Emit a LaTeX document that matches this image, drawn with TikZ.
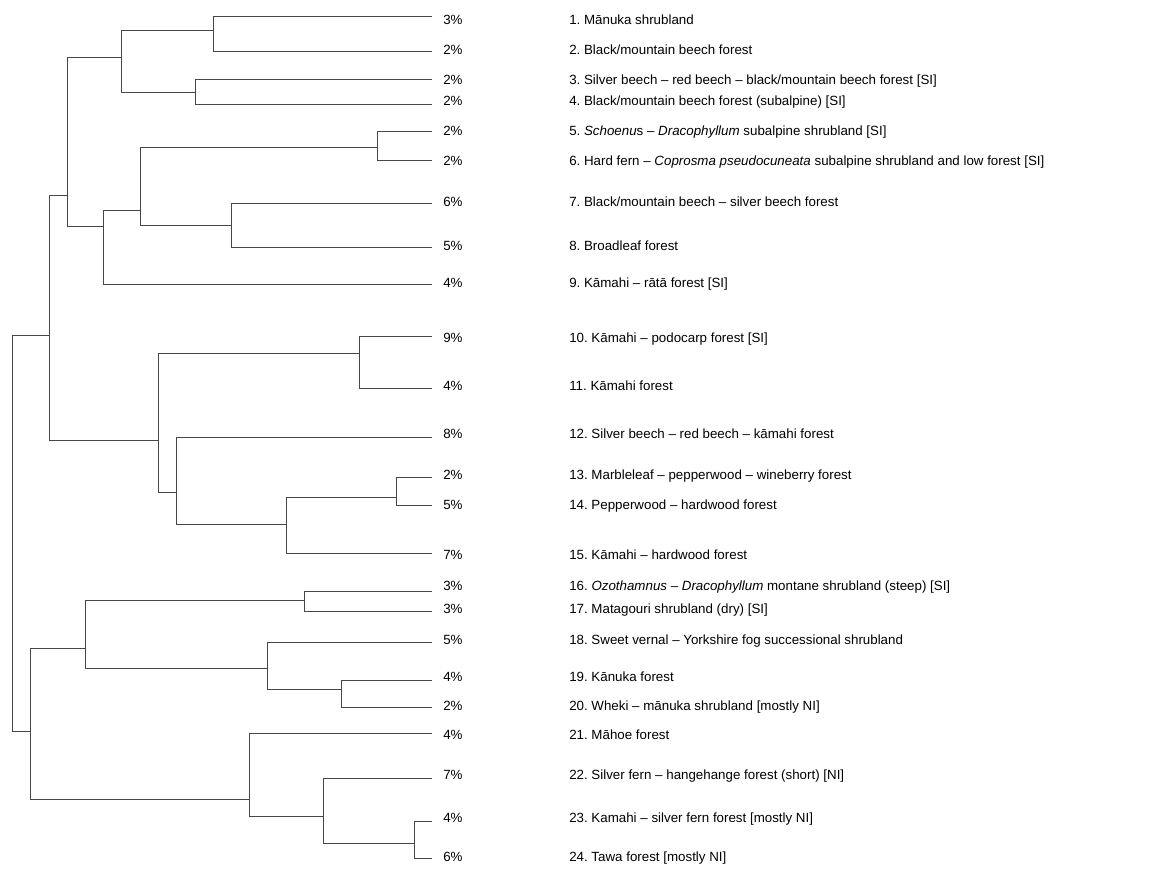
\documentclass[tikz,border=0pt]{standalone}
\usepackage{fontspec}
\setmainfont{Liberation Sans}
\usepackage{tikz}
\usetikzlibrary{positioning}
\frenchspacing

\begin{document}
\begin{tikzpicture}[x=0.75pt, y=-0.75pt, font=\fontsize{10pt}{12pt}\selectfont,
    branch/.style={draw=black!72, line width=0.75pt},
    txt/.style={anchor=west, inner sep=0pt, text height=7.2pt, text depth=0pt}]
    \useasboundingbox (0,0) rectangle (1175,868);
    % leaf ends and percentages
    \foreach \i/\y/\ty/\p in {
      1/16.7/19.5/3, 2/51.7/49.2/2, 3/79.3/80/2, 4/104.3/100.2/2,
      5/131/130.2/2, 6/160/160.8/2, 7/203.3/202/6, 8/247.3/245.8/5,
      9/284.3/282.5/4, 10/336.7/337.5/9, 11/388.3/385.8/4, 12/437/433.8/8,
      13/477/474.2/2, 14/505.7/504.2/5, 15/553.3/555/7, 16/591/585.8/3,
      17/611.3/608.8/3, 18/642.3/639.7/5, 19/680.7/676.8/4, 20/707/705.8/2,
      21/733.7/734.2/4, 22/778.3/774.5/7, 23/821.3/817.5/4, 24/858.7/856.8/6}
    {
      \coordinate (l\i) at (432.3,\y);
      \node[txt] (p\i) at (443,\ty) {\p\%};
    }
    % junctions
    \coordinate (n12) at (213.3,30.7);
    \coordinate (n34) at (195,92.3);
    \coordinate (n1to4) at (121.7,57.3);
    \coordinate (n56) at (377.7,147.7);
    \coordinate (n78) at (231.3,225.7);
    \coordinate (n5to8) at (140,210.7);
    \coordinate (n5to9) at (103.3,226.3);
    \coordinate (n1to9) at (67.7,195.7);
    \coordinate (n10to11) at (359.7,353.3);
    \coordinate (n13to14) at (396,497.3);
    \coordinate (n13to15) at (286.7,524.3);
    \coordinate (n12to15) at (176.7,492.7);
    \coordinate (n10to15) at (158.3,440.3);
    \coordinate (n1to15) at (49,335);
    \coordinate (n16to17) at (304.3,600.7);
    \coordinate (n19to20) at (341.3,689.7);
    \coordinate (n18to20) at (267.7,668.3);
    \coordinate (n16to20) at (85,648.3);
    \coordinate (n23to24) at (414.3,843.7);
    \coordinate (n22to24) at (323,816.7);
    \coordinate (n21to24) at (249.3,799);
    \coordinate (n16to24) at (30.3,731.3);
    \coordinate (root) at (12.3,533);
    \foreach \i/\j in {
      n12/l1, n12/l2, n34/l3, n34/l4, n1to4/n12, n1to4/n34,
      n56/l5, n56/l6, n78/l7, n78/l8, n5to8/n56, n5to8/n78,
      n5to9/n5to8, n5to9/l9, n1to9/n1to4, n1to9/n5to9,
      n10to11/l10, n10to11/l11, n13to14/l13, n13to14/l14,
      n13to15/n13to14, n13to15/l15, n12to15/l12, n12to15/n13to15,
      n10to15/n10to11, n10to15/n12to15, n1to15/n1to9, n1to15/n10to15,
      n16to17/l16, n16to17/l17, n19to20/l19, n19to20/l20,
      n18to20/l18, n18to20/n19to20, n16to20/n16to17, n16to20/n18to20,
      n23to24/l23, n23to24/l24, n22to24/l22, n22to24/n23to24,
      n21to24/l21, n21to24/n22to24, n16to24/n16to20, n16to24/n21to24,
      root/n1to15, root/n16to24}
      \draw[branch] (\i) |- (\j);
    % community names
    \node[txt] (t1) at (569,19.5) {1. Mānuka shrubland};
    \node[txt] (t2) at (569,49.2) {2. Black/mountain beech forest};
    \node[txt] (t3) at (569,80) {3. Silver beech – red beech – black/mountain beech forest [SI]};
    \node[txt] (t4) at (569,100.2) {4. Black/mountain beech forest (subalpine) [SI]};
    \node[txt] (t5) at (569,130.2) {5. \textit{Schoenu}s – \textit{Dracophyllum} subalpine shrubland [SI]};
    \node[txt] (t6) at (569,160.8) {6. Hard fern – \textit{Coprosma pseudocuneata} subalpine shrubland and low forest [SI]};
    \node[txt] (t7) at (569,202) {7. Black/mountain beech – silver beech forest};
    \node[txt] (t8) at (569,245.8) {8. Broadleaf forest};
    \node[txt] (t9) at (569,282.5) {9. Kāmahi – rātā forest [SI]};
    \node[txt] (t10) at (569,337.5) {10. Kāmahi – podocarp forest [SI]};
    \node[txt] (t11) at (569,385.8) {11. Kāmahi forest};
    \node[txt] (t12) at (569,433.8) {12. Silver beech – red beech – kāmahi forest};
    \node[txt] (t13) at (569,474.2) {13. Marbleleaf – pepperwood – wineberry forest};
    \node[txt] (t14) at (569,504.2) {14. Pepperwood – hardwood forest};
    \node[txt] (t15) at (569,555) {15. Kāmahi – hardwood forest};
    \node[txt] (t16) at (569,585.8) {16. \textit{Ozothamnus} – \textit{Dracophyllum} montane shrubland (steep) [SI]};
    \node[txt] (t17) at (569,608.8) {17. Matagouri shrubland (dry) [SI]};
    \node[txt] (t18) at (569,639.7) {18. Sweet vernal – Yorkshire fog successional shrubland};
    \node[txt] (t19) at (569,676.8) {19. Kānuka forest};
    \node[txt] (t20) at (569,705.8) {20. Wheki – mānuka shrubland [mostly NI]};
    \node[txt] (t21) at (569,734.2) {21. Māhoe forest};
    \node[txt] (t22) at (569,774.5) {22. Silver fern – hangehange forest (short) [NI]};
    \node[txt] (t23) at (569,817.5) {23. Kamahi – silver fern forest [mostly NI]};
    \node[txt] (t24) at (569,856.8) {24. Tawa forest [mostly NI]};
\end{tikzpicture}
\end{document}
